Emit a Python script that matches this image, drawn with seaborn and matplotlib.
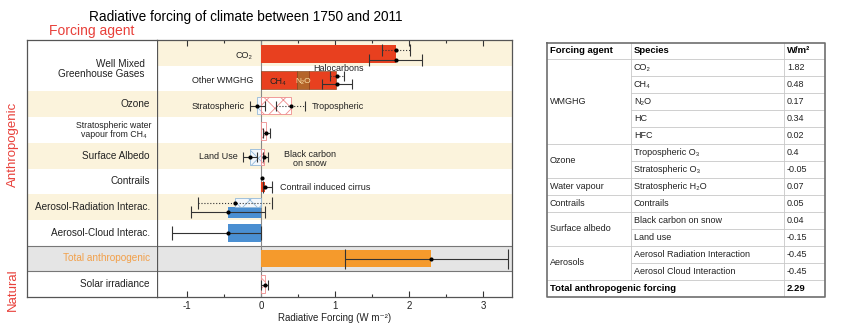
import numpy as np
import pandas as pd
import matplotlib
matplotlib.use("Agg")
import matplotlib.pyplot as plt
import seaborn as sns

# ---------------- data ----------------
row_labels = ["Well Mixed\nGreenhouse Gases", "Ozone", "Stratospheric water\nvapour from CH₄",
              "Surface Albedo", "Contrails", "Aerosol-Radiation Interac.",
              "Aerosol-Cloud Interac.", "Total anthropogenic", "Solar irradiance"]
row_label_rows = [1.12, 2.5, 3.58, 4.5, 5.5, 6.5, 7.5, 8.5, 9.5]

co2_value = 1.82
other_wmghg_names = ["CH₄", "N₂O", "Halocarbons"]
other_wmghg_values = [0.48, 0.17, 0.36]
aerosol_erf_values = [-0.45, -0.45]          # ERFari, ERFaci
total_anthropogenic = 2.29
contrail_cirrus = 0.05

hatch_names = ["Stratospheric O₃", "Tropospheric O₃", "Stratospheric H₂O", "Land use",
               "Black carbon on snow", "RFari", "Solar irradiance"]
hatch_values = [-0.05, 0.40, 0.07, -0.15, 0.04, -0.35, 0.05]
hatch_rows = [2, 2, 3, 4, 4, 6, 9]

err_best = [1.82, 1.82, 1.02, 1.02, -0.05, 0.40, 0.07, -0.15, 0.04, 0.05, -0.35, -0.45, -0.45, 2.29, 0.05]
err_lo   = [1.63, 1.46, 0.93, 0.82, -0.15, 0.20, 0.02, -0.25, 0.02, 0.02, -0.85, -0.95, -1.20, 1.13, 0.00]
err_hi   = [2.01, 2.18, 1.12, 1.23, 0.05, 0.60, 0.12, -0.05, 0.09, 0.15, 0.15, 0.05, 0.00, 3.33, 0.10]
err_rows = [0, 0, 1, 1, 2, 2, 3, 4, 4, 5, 6, 6, 7, 8, 9]
linear_contrails = 0.01

# table data
tbl_agents = ["WMGHG", "Ozone", "Water vapour", "Contrails", "Surface albedo", "Aerosols"]
tbl_spans = [5, 2, 1, 1, 2, 2]
tbl_species = ["CO₂", "CH₄", "N₂O", "HC", "HFC", "Tropospheric O₃", "Stratospheric O₃",
               "Stratospheric H₂O", "Contrails", "Black carbon on snow", "Land use",
               "Aerosol Radiation Interaction", "Aerosol Cloud Interaction"]
tbl_values = [1.82, 0.48, 0.17, 0.34, 0.02, 0.4, -0.05, 0.07, 0.05, 0.04, -0.15, -0.45, -0.45]
tbl_total = 2.29

# ---------------- style ----------------
sns.set_style("white")
plt.rcParams['font.family'] = ['Liberation Sans', 'DejaVu Sans']
plt.rcParams['hatch.linewidth'] = 0.6

RED = "#E8401F"
BROWN = "#B5652A"
ORANGE = "#F59A2C"
BLUE = "#4A8FD2"
BEIGE = "#FBF3DC"
GREY_BG = "#E5E5E5"
HRED = "#EE8C8C"
HBLUE = "#93B9DA"
SPINE = "#555555"
TXT = "#222222"

fig = plt.figure(figsize=(8.5, 3.32), dpi=100)
W, H = 850, 332
def box(x0, y0, x1, y1):
    return [x0 / W, 1 - y1 / H, (x1 - x0) / W, (y1 - y0) / H]

ax = fig.add_axes(box(157, 40, 512, 297))
axl = fig.add_axes(box(27, 40, 157, 297))
axt = fig.add_axes(box(547, 43, 825, 297))

# ---------------- backgrounds ----------------
for r in [0, 2, 4, 6]:
    ax.axhspan(r, r + 1, color=BEIGE, lw=0, zorder=0)
for r in [2, 4, 6]:
    axl.axhspan(r, r + 1, color=BEIGE, lw=0, zorder=0)
for a in (ax, axl):
    a.axhspan(8, 9, color=GREY_BG, lw=0, zorder=0)
    a.axhline(8, color="#777777", lw=0.8, zorder=0.5)
    a.axhline(9, color="#777777", lw=0.8, zorder=0.5)

ax.axvline(0, color="#888888", lw=0.8, zorder=1)

# ---------------- bars ----------------
c = 0.55
h = 0.68
ax.barh(0 + c, co2_value, height=h, color=RED, lw=0, zorder=2)
lefts = np.concatenate([[0], np.cumsum(other_wmghg_values)[:-1]])
for nm, v, l, col in zip(other_wmghg_names, other_wmghg_values, lefts, [RED, BROWN, RED]):
    ax.barh(1 + c, v, left=l, height=h, color=col, edgecolor="#7a3a10", lw=0.4, zorder=2)

ax.barh(6 + 0.72, aerosol_erf_values[0], height=0.42, color=BLUE, lw=0, zorder=2)
ax.barh(7 + 0.51, aerosol_erf_values[1], height=0.70, color=BLUE, lw=0, zorder=2)
ax.barh(8 + 0.5, total_anthropogenic, height=0.67, color=ORANGE, lw=0, zorder=2)
ax.barh(5 + 0.72, contrail_cirrus, height=0.39, color=RED, lw=0, zorder=2)

hatch_c = {2: 0.55, 3: 0.55, 4: 0.55, 6: 0.33, 9: 0.5}
hatch_h = {2: 0.68, 3: 0.68, 4: 0.6, 6: 0.35, 9: 0.7}
for nm, v, r in zip(hatch_names, hatch_values, hatch_rows):
    ec = HBLUE if v < 0 else HRED
    fc = "#F3F7FB" if v < 0 else "white"
    ax.barh(r + hatch_c[r], v, height=hatch_h[r], color=fc, edgecolor=ec,
            hatch="xx", lw=0.6, zorder=2)

# ---------------- error bars ----------------
err_off = [0.4, 0.76, 0.4, 0.72, 0.57, 0.57, 0.6, 0.55, 0.55, 0.72, 0.33, 0.7, 0.52, 0.52, 0.53]
err_ls = [':', '-', ':', '-', '-', ':', '-', '-', '-', '-', ':', '-', '-', '-', '-']
err_cap = [4, 4, 3.5, 3.5, 3.5, 3.5, 3.5, 3.5, 3.5, 4, 4, 4, 5, 7, 3.5]
ys = np.array(err_rows) + np.array(err_off)
for b, lo, hi, y, ls, cs in zip(err_best, err_lo, err_hi, ys, err_ls, err_cap):
    eb = ax.errorbar(b, y, xerr=[[b - lo], [hi - b]], fmt='none', ecolor="#333333",
                     elinewidth=0.8, capsize=cs, capthick=0.8, zorder=4)
    eb[2][0].set_linestyle(ls)

pts = pd.DataFrame({"x": err_best + [linear_contrails], "y": list(ys) + [5.37]})
sns.scatterplot(data=pts, x="x", y="y", color="black", s=9, linewidth=0, ax=ax,
                zorder=5, legend=False)

# ---------------- annotations ----------------
fs = 6.5
ax.text(-0.12, 0.6, "CO₂", ha="right", va="center", fontsize=fs, color=TXT)
ax.text(-0.11, 1.58, "Other WMGHG", ha="right", va="center", fontsize=fs, color=TXT)
ax.text(1.05, 1.1, "Halocarbons", ha="center", va="center", fontsize=fs, color=TXT)
ax.text(0.23, 1.6, "CH₄", ha="center", va="center", fontsize=fs, color=TXT)
ax.text(0.565, 1.6, "N₂O", ha="center", va="center", fontsize=fs - 0.5, color="#FFE9B0")
ax.text(-0.22, 2.57, "Stratospheric", ha="right", va="center", fontsize=fs, color=TXT)
ax.text(0.68, 2.57, "Tropospheric", ha="left", va="center", fontsize=fs, color=TXT)
ax.text(-0.31, 4.55, "Land Use", ha="right", va="center", fontsize=fs, color=TXT)
ax.text(0.66, 4.62, "Black carbon\non snow", ha="center", va="center", fontsize=fs,
        color=TXT, linespacing=0.95)
ax.text(0.26, 5.72, "Contrail induced cirrus", ha="left", va="center", fontsize=fs, color=TXT)

# ---------------- axes ----------------
ax.set_xlim(-1.405, 3.39)
ax.set_ylim(10, 0)
ax.set_yticks([])
ax.set_xticks([-1, 0, 1, 2, 3])
ax.set_xticklabels(["-1", "0", "1", "2", "3"])
ax.set_xticks([-0.5, 0.5, 1.5, 2.5], minor=True)
ax.tick_params(which="both", direction="in", top=True, bottom=True, color="#333333",
               width=0.8, labelsize=7, pad=3, labelcolor=TXT)
ax.tick_params(which="major", length=4)
ax.tick_params(which="minor", length=2)
ax.set_xlabel("Radiative Forcing (W m⁻²)", fontsize=7, labelpad=1, color=TXT)
ax.set_ylabel("")
for s in ax.spines.values():
    s.set_color(SPINE)
    s.set_linewidth(0.9)

axl.set_xlim(0, 1)
axl.set_ylim(10, 0)
axl.set_xticks([])
axl.set_yticks([])
axl.spines["right"].set_visible(False)
for k in ["left", "top", "bottom"]:
    axl.spines[k].set_color(SPINE)
    axl.spines[k].set_linewidth(0.9)

for lab, r in zip(row_labels, row_label_rows):
    if lab.startswith("Well"):
        axl.text(0.905, r, lab, ha="right", va="center", fontsize=7.2, color=TXT,
                 linespacing=1.05, multialignment="right")
    elif lab.startswith("Strat"):
        axl.text(0.67, r - 0.08, lab, ha="center", va="center", fontsize=6.3, color=TXT,
                 linespacing=0.95, multialignment="center")
    elif lab.startswith("Total"):
        axl.text(0.946, r, lab, ha="right", va="center", fontsize=7.2, color="#F2A04A")
    else:
        axl.text(0.946, r, lab, ha="right", va="center", fontsize=7.2, color=TXT)

# titles / side labels
fig.text(246 / W, 1 - 17 / H, "Radiative forcing of climate between 1750 and 2011",
         ha="center", va="center", fontsize=9.8, color="black")
fig.text(92 / W, 1 - 31 / H, "Forcing agent", ha="center", va="center", fontsize=10,
         color="#E8403A")
fig.text(13 / W, 1 - 144 / H, "Anthropogenic", ha="center", va="center", fontsize=9.5,
         color="#E8403A", rotation=90)
fig.text(13 / W, 1 - 290 / H, "Natural", ha="center", va="center", fontsize=9.5,
         color="#E8403A", rotation=90)

# ---------------- table ----------------
TW, TH = 278, 254
axt.set_xlim(0, TW)
axt.set_ylim(TH, 0)
axt.axis("off")
cx = [0, 84, 237, TW]
hdr = 15.5
rh = (TH - hdr) / 14
rb = [0, hdr] + [hdr + rh * (k + 1) for k in range(14)]
GRID = "#C8C8C8"
tfs = 6.5
for k in range(1, 15):
    axt.plot([cx[1], cx[3]], [rb[k], rb[k]], color=GRID, lw=0.6)
acc = 1
axt.plot([cx[0], cx[1]], [rb[1], rb[1]], color=GRID, lw=0.6)
for nm, sp in zip(tbl_agents, tbl_spans):
    top, bot = rb[acc], rb[acc + sp]
    axt.text(cx[0] + 3, (top + bot) / 2, nm, ha="left", va="center", fontsize=tfs, color=TXT)
    axt.plot([cx[0], cx[1]], [bot, bot], color=GRID, lw=0.6)
    acc += sp
axt.plot([cx[1], cx[1]], [0, rb[14]], color=GRID, lw=0.6)
axt.plot([cx[2], cx[2]], [0, TH], color=GRID, lw=0.6)
axt.plot([0, TW, TW, 0, 0], [0, 0, TH, TH, 0], color="#6E6E6E", lw=1.2, clip_on=False)
axt.text(cx[0] + 3, hdr / 2, "Forcing agent", ha="left", va="center", fontsize=6.8,
         fontweight="bold", color="black")
axt.text(cx[1] + 3, hdr / 2, "Species", ha="left", va="center", fontsize=6.8,
         fontweight="bold", color="black")
axt.text(cx[2] + 3, hdr / 2, "W/m²", ha="left", va="center", fontsize=6.8,
         fontweight="bold", color="black")
for k, (sp, v) in enumerate(zip(tbl_species, tbl_values)):
    yc = (rb[k + 1] + rb[k + 2]) / 2
    axt.text(cx[1] + 3, yc, sp, ha="left", va="center", fontsize=tfs, color=TXT)
    axt.text(cx[2] + 3, yc, f"{v:g}", ha="left", va="center", fontsize=tfs, color=TXT)
yc = (rb[14] + rb[15]) / 2
axt.text(cx[0] + 3, yc, "Total anthropogenic forcing", ha="left", va="center",
         fontsize=6.8, fontweight="bold", color="black")
axt.text(cx[2] + 3, yc, f"{tbl_total:.2f}", ha="left", va="center", fontsize=6.8,
         fontweight="bold", color="black")

fig.savefig("out.png", dpi=100)
